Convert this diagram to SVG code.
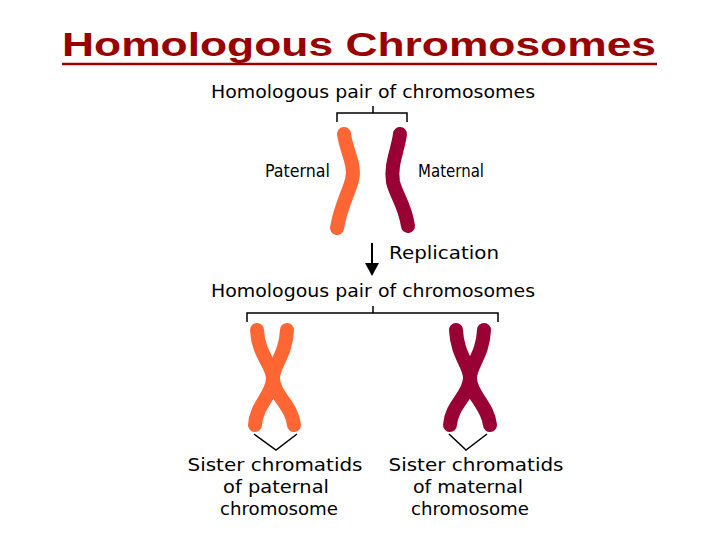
<svg xmlns="http://www.w3.org/2000/svg" width="720" height="540" viewBox="0 0 720 540">
<style>
.t{font-family:"DejaVu Sans",sans-serif;font-size:17px;fill:#000}
.ln{stroke:#000;stroke-width:1.5;fill:none}
.p{stroke:#FF6633;stroke-width:14;stroke-linecap:round;stroke-linejoin:round;fill:none}
.m{stroke:#990033;stroke-width:14;stroke-linecap:round;stroke-linejoin:round;fill:none}
</style>
<rect width="720" height="540" fill="#fff"/>
<g id="title">
<text x="359" y="56" text-anchor="middle" font-family="Liberation Sans,Arial,sans-serif" font-weight="bold" font-size="34" fill="#990000" textLength="594" lengthAdjust="spacingAndGlyphs">Homologous Chromosomes</text>
<line x1="62" y1="64" x2="657" y2="64" stroke="#990000" stroke-width="2.5"/>
</g>
<g id="top-pair">
<text class="t" x="211" y="98" textLength="324" lengthAdjust="spacingAndGlyphs">Homologous pair of chromosomes</text>
<path class="ln" d="M337,122 V113 H407 V122 M373,113 V106"/>
<path class="p" d="M344,134 C346,150 356,165 352,180 C348,195 341,205 337,228"/>
<path class="m" d="M400,134 C398,150 390,165 393,182 C396,195 405,205 408,226"/>
<text class="t" x="265" y="177" textLength="65" lengthAdjust="spacingAndGlyphs">Paternal</text>
<text class="t" x="418" y="177" textLength="66" lengthAdjust="spacingAndGlyphs">Maternal</text>
</g>
<g id="replication">
<line x1="372" y1="243" x2="372" y2="264" stroke="#000" stroke-width="2"/>
<polygon points="365,263 379,263 372,276" fill="#000"/>
<text class="t" x="389" y="259" textLength="110" lengthAdjust="spacingAndGlyphs">Replication</text>
</g>
<g id="bottom-pair">
<text class="t" x="211" y="297" textLength="324" lengthAdjust="spacingAndGlyphs">Homologous pair of chromosomes</text>
<path class="ln" d="M247,322 V313 H498 V322 M373,313 V306"/>
</g>
<g id="paternal-x">
<path class="p" d="M257,330 C258,355 273,365 273,378 C273,395 256,405 255,425"/>
<path class="p" d="M287,330 C286,355 273,365 273,378 C273,395 292,405 294,425"/>
<path class="ln" d="M254,434 L276,450 L297,434"/>
<text class="t" x="275" y="471" text-anchor="middle" textLength="175" lengthAdjust="spacingAndGlyphs">Sister chromatids</text>
<text class="t" x="276" y="493" text-anchor="middle" textLength="106" lengthAdjust="spacingAndGlyphs">of paternal</text>
<text class="t" x="279" y="515" text-anchor="middle" textLength="118" lengthAdjust="spacingAndGlyphs">chromosome</text>
</g>
<g id="maternal-x">
<path class="m" d="M456,330 C457,355 470,365 470,378 C470,395 451,405 450,425"/>
<path class="m" d="M484,330 C483,355 470,365 470,378 C470,395 488,405 490,425"/>
<path class="ln" d="M449,434 L466,450 L487,434"/>
<text class="t" x="476" y="471" text-anchor="middle" textLength="175" lengthAdjust="spacingAndGlyphs">Sister chromatids</text>
<text class="t" x="468" y="493" text-anchor="middle" textLength="110" lengthAdjust="spacingAndGlyphs">of maternal</text>
<text class="t" x="470" y="515" text-anchor="middle" textLength="118" lengthAdjust="spacingAndGlyphs">chromosome</text>
</g>
</svg>
